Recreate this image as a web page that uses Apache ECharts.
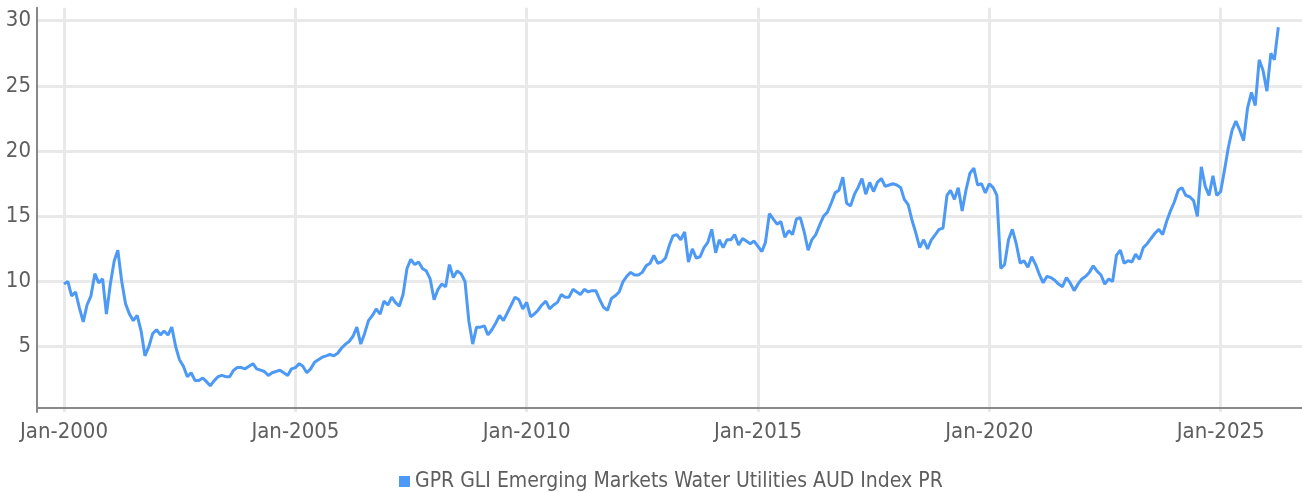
<!DOCTYPE html>
<html>
<head>
<meta charset="utf-8">
<title>GPR GLI Emerging Markets Water Utilities AUD Index PR</title>
<script src="https://cdn.jsdelivr.net/npm/echarts@6/dist/echarts.min.js"></script>
<style>
  html, body { margin: 0; padding: 0; background: #fff; }
  #main { width: 1302px; height: 493px; }
</style>
</head>
<body>
<div id="main"></div>
<script>
// index level at the start of each month, from Jan 2000 on
var startYear = 2000;
var values = [
  9.8, 10.0, 8.9, 9.2, 8.0, 6.9, 8.2, 8.9, 10.6, 9.9, 10.2, 7.5,       // 2000
  9.8, 11.6, 12.4, 10.0, 8.3, 7.5, 7.0, 7.4, 6.2, 4.3, 5.0, 6.0,       // 2001
  6.3, 5.9, 6.2, 5.9, 6.5, 5.0, 4.0, 3.5, 2.7, 3.0, 2.4, 2.4,          // 2002
  2.6, 2.3, 2.0, 2.4, 2.7, 2.8, 2.7, 2.7, 3.2, 3.4, 3.4, 3.3,          // 2003
  3.5, 3.7, 3.3, 3.2, 3.1, 2.8, 3.0, 3.1, 3.2, 3.0, 2.8, 3.3,          // 2004
  3.4, 3.7, 3.5, 3.0, 3.3, 3.8, 4.0, 4.2, 4.3, 4.4, 4.3, 4.5,          // 2005
  4.9, 5.2, 5.4, 5.8, 6.5, 5.2, 6.0, 7.0, 7.4, 7.9, 7.5, 8.5,          // 2006
  8.2, 8.8, 8.4, 8.1, 9.0, 11.0, 11.7, 11.3, 11.5, 11.0, 10.8, 10.2,   // 2007
  8.6, 9.4, 9.8, 9.6, 11.3, 10.3, 10.8, 10.6, 10.0, 7.0, 5.2, 6.5,     // 2008
  6.5, 6.6, 5.9, 6.3, 6.8, 7.4, 7.0, 7.6, 8.2, 8.8, 8.6, 7.9,          // 2009
  8.4, 7.3, 7.5, 7.8, 8.2, 8.5, 7.9, 8.2, 8.4, 9.0, 8.8, 8.8,          // 2010
  9.4, 9.2, 9.0, 9.4, 9.2, 9.3, 9.3, 8.6, 8.0, 7.8, 8.7, 8.9,          // 2011
  9.2, 10.0, 10.4, 10.7, 10.5, 10.5, 10.7, 11.2, 11.4, 12.0, 11.4, 11.5, // 2012
  11.8, 12.8, 13.5, 13.6, 13.2, 13.8, 11.5, 12.5, 11.8, 11.9, 12.6, 13.0, // 2013
  14.0, 12.2, 13.2, 12.6, 13.2, 13.2, 13.6, 12.8, 13.3, 13.1, 12.9, 13.1, // 2014
  12.7, 12.3, 13.0, 15.2, 14.8, 14.4, 14.6, 13.4, 13.9, 13.6, 14.8, 14.9, // 2015
  13.8, 12.4, 13.2, 13.6, 14.3, 15.0, 15.3, 16.0, 16.8, 17.0, 18.0, 16.0, // 2016
  15.8, 16.7, 17.2, 17.9, 16.7, 17.6, 16.9, 17.6, 17.9, 17.3, 17.4, 17.5, // 2017
  17.4, 17.2, 16.3, 15.9, 14.7, 13.7, 12.6, 13.2, 12.5, 13.2, 13.6, 14.0, // 2018
  14.1, 16.6, 17.0, 16.3, 17.2, 15.4, 17.0, 18.3, 18.7, 17.4, 17.5, 16.8, // 2019
  17.5, 17.2, 16.6, 11.0, 11.3, 13.2, 14.0, 12.9, 11.4, 11.6, 11.1, 11.9, // 2020
  11.3, 10.5, 9.9, 10.4, 10.3, 10.1, 9.8, 9.6, 10.3, 9.9, 9.3, 9.8,      // 2021
  10.2, 10.4, 10.7, 11.2, 10.8, 10.5, 9.8, 10.2, 10.0, 12.0, 12.4, 11.4, // 2022
  11.6, 11.5, 12.1, 11.7, 12.6, 12.9, 13.3, 13.7, 14.0, 13.6, 14.6, 15.4, // 2023
  16.1, 17.0, 17.2, 16.6, 16.5, 16.2, 15.0, 18.8, 17.3, 16.6, 18.1, 16.6, // 2024
  16.9, 18.6, 20.2, 21.6, 22.3, 21.6, 20.8, 23.3, 24.5, 23.5, 27.0, 26.2, // 2025
  24.6, 27.5, 27.0, 29.5                                                // 2026
];
var tickYears = [2000, 2005, 2010, 2015, 2020, 2025];
var seriesName = 'GPR GLI Emerging Markets Water Utilities AUD Index PR';

var font = "'Liberation Sans Narrow', 'DejaVu Sans Condensed', 'Roboto', sans-serif";
var textColor = '#5e5e5e';
var lineColor = '#4d99f6';

// x is a plain value axis holding UTC milliseconds
var points = values.map(function (v, i) {
  return [Date.UTC(startYear, i, 1), v];
});
var tickTimes = tickYears.map(function (y) {
  return Date.UTC(y, 0, 1);
});

var myChart = echarts.init(document.getElementById('main'));

var option = {
  animation: false,
  grid: {
    left: 37,
    right: 0,
    top: 7.7,
    bottom: 81.1,
    containLabel: false
  },
  legend: {
    data: [seriesName],
    left: 394,
    top: 466,
    icon: 'rect',
    itemWidth: 11,
    itemHeight: 11,
    itemGap: 5,
    textStyle: { fontFamily: font, fontSize: 21, color: textColor }
  },
  xAxis: {
    type: 'value',
    min: Date.UTC(1999, 5, 2),
    max: Date.UTC(2026, 9, 5),
    offset: -4,
    axisLine: { lineStyle: { color: '#888', width: 2 } },
    axisTick: { show: false, customValues: tickTimes },
    axisLabel: {
      customValues: tickTimes,
      formatter: function (v) {
        return 'Jan-' + new Date(v).getUTCFullYear();
      },
      fontFamily: font,
      fontSize: 22,
      color: textColor,
      margin: 13
    },
    splitLine: { show: true, lineStyle: { color: '#e9e9e9', width: 3 } }
  },
  yAxis: {
    type: 'value',
    min: 0,
    max: 31,
    interval: 5,
    axisLine: { show: true, lineStyle: { color: '#888', width: 2 } },
    axisTick: { show: false },
    axisLabel: {
      showMinLabel: false,
      showMaxLabel: false,
      fontFamily: font,
      fontSize: 22,
      color: textColor,
      margin: 6
    },
    splitLine: {
      show: true,
      showMinLine: false,
      showMaxLine: false,
      lineStyle: { color: '#e9e9e9', width: 3 }
    }
  },
  series: [{
    name: seriesName,
    type: 'line',
    data: points,
    showSymbol: false,
    symbol: 'none',
    lineStyle: { color: lineColor, width: 3 },
    itemStyle: { color: lineColor }
  }]
};

myChart.setOption(option);
</script>
</body>
</html>
